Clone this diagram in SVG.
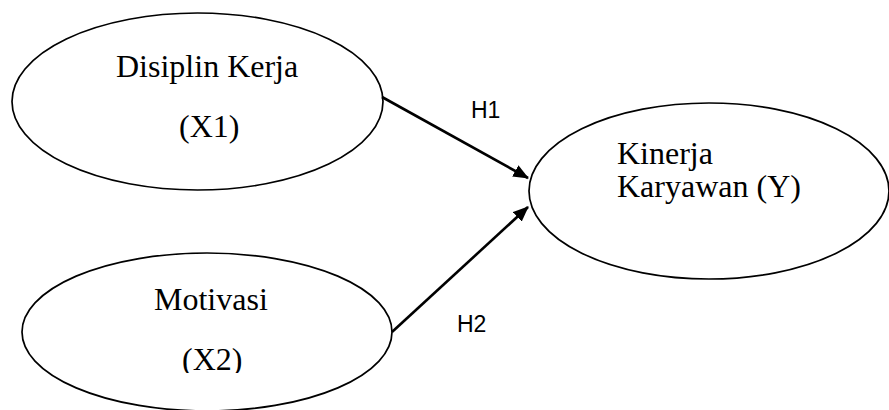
<svg xmlns="http://www.w3.org/2000/svg" width="889" height="410" viewBox="0 0 889 410">
  <style>
    .node { fill: #fff; stroke: #000; stroke-width: 1.7; }
    .label { font-family: "Liberation Serif", "Times New Roman", serif; font-size: 32px; fill: #000; }
    .hyp { font-family: "Liberation Sans", Arial, sans-serif; font-size: 23px; fill: #000; }
    .edge { stroke: #000; stroke-width: 2.6; fill: none; marker-end: url(#arrow); }
  </style>
  <defs>
    <marker id="arrow" markerWidth="6" markerHeight="5" refX="5.6" refY="2.5" orient="auto" markerUnits="strokeWidth">
      <path d="M0,0 L6,2.5 L0,5 Z" fill="#000"/>
    </marker>
    <clipPath id="clipX2">
      <rect x="0" y="0" width="889" height="373"/>
    </clipPath>
  </defs>
  <rect width="889" height="410" fill="#fff"/>

  <g id="node-x1">
    <ellipse class="node" cx="197.5" cy="101.5" rx="185.5" ry="88.5"/>
    <text class="label" x="116" y="77">Disiplin Kerja</text>
    <text class="label" x="179" y="137">(X1)</text>
  </g>

  <g id="node-x2">
    <ellipse class="node" cx="207" cy="332" rx="185" ry="79"/>
    <text class="label" x="154" y="310">Motivasi</text>
    <text class="label" x="182" y="370" clip-path="url(#clipX2)">(X2)</text>
  </g>

  <g id="node-y">
    <ellipse class="node" cx="709" cy="191" rx="180" ry="88"/>
    <text class="label" x="617" y="164">Kinerja</text>
    <text class="label" x="617" y="197">Karyawan (Y)</text>
  </g>

  <g id="connectors">
    <line class="edge" x1="382" y1="97" x2="528" y2="178"/>
    <line class="edge" x1="392" y1="332" x2="528" y2="207"/>
    <text class="hyp" x="471" y="118">H1</text>
    <text class="hyp" x="457" y="332">H2</text>
  </g>
</svg>
